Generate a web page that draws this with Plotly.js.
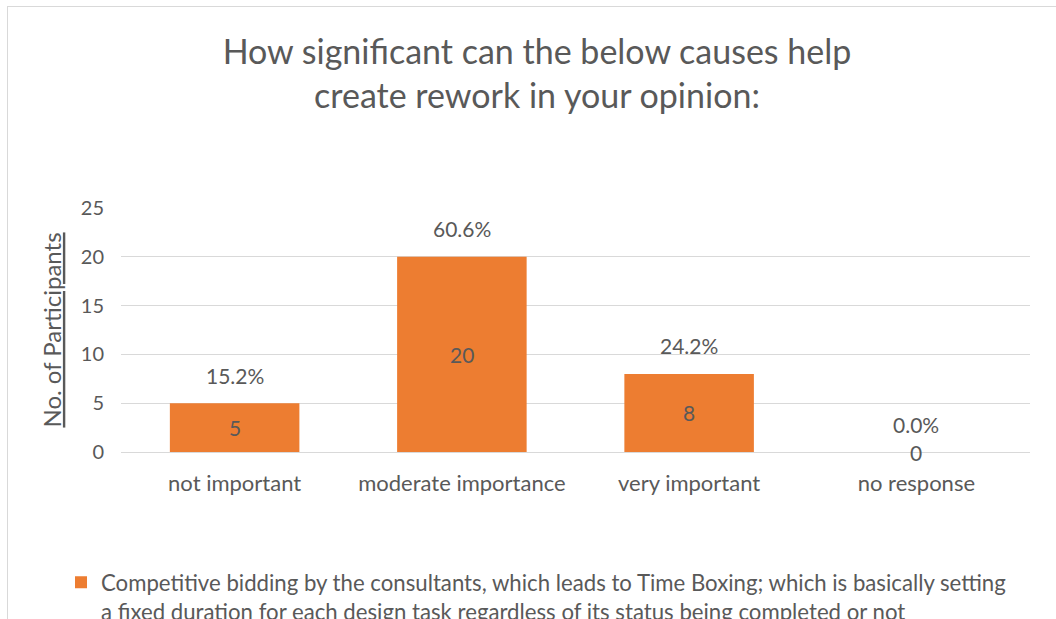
<!DOCTYPE html>
<html>
<head>
<meta charset="utf-8">
<script src="https://cdn.plot.ly/plotly-3.0.1.min.js"></script>
<style>
html,body{margin:0;padding:0;overflow:hidden;background:#fff;width:1056px;height:619px;}
#chart{position:absolute;left:0;top:0;width:1056px;height:640px;}
#frame{position:absolute;left:7px;top:6px;width:2000px;height:2000px;border-left:1px solid #d9d9d9;border-top:1px solid #d9d9d9;pointer-events:none;z-index:10;}
</style>
</head>
<body>
<div id="chart"></div>
<div id="frame"></div>
<script>
const categories = ["not important", "moderate importance", "very important", "no response"];
const counts = [5, 20, 8, 0];
const percentLabels = ["15.2%", "60.6%", "24.2%", "0.0%"];
const seriesName = "Competitive bidding by the consultants, which leads to Time Boxing; which is basically setting<br>a fixed duration for each design task regardless of its status being completed or not";
const yTicks = [0, 5, 10, 15, 20, 25];

const FONT = "Lato, 'Open Sans', sans-serif";
const GREY = "#595959";

const annotations = [];
categories.forEach((c, i) => {
  annotations.push({x: c, y: counts[i], xref: 'x', yref: 'y', text: percentLabels[i], showarrow: false,
    yanchor: 'middle', yshift: 28, font: {family: FONT, size: 21, color: GREY}});
  annotations.push({x: c, y: counts[i] / 2, xref: 'x', yref: 'y', text: String(counts[i]), showarrow: false,
    yanchor: 'middle', font: {family: FONT, size: 21, color: GREY}});
});

const trace = {
  type: 'bar', x: categories, y: counts, name: seriesName,
  marker: {color: '#ED7D31'}, showlegend: true, hoverinfo: 'x+y'
};

const layout = {
  width: 1056, height: 640,
  margin: {l: 121, r: 26, t: 208, b: 188},
  paper_bgcolor: '#fff', plot_bgcolor: '#fff',
  font: {family: FONT, color: GREY},
  title: {text: "How significant can the below causes help<br>create rework in your opinion:",
    x: 0.5085, xref: 'container', xanchor: 'center', y: 0.90, yref: 'container', yanchor: 'top',
    font: {family: FONT, size: 34, color: GREY}},
  bargap: 0.43,
  xaxis: {type: 'category', showgrid: false, zeroline: false, showline: false, ticks: '',
    tickfont: {family: FONT, size: 22, color: GREY}, ticklabelstandoff: 16, fixedrange: true},
  yaxis: {range: [0, 25], tickvals: yTicks, showgrid: true, gridcolor: '#d9d9d9', gridwidth: 1,
    zeroline: true, zerolinecolor: '#d9d9d9', zerolinewidth: 1, showline: false, ticks: '',
    tickfont: {family: FONT, size: 20, color: GREY}, ticklabelstandoff: 16,
    title: {text: "<u>No. of Participants</u>", font: {family: FONT, size: 24, color: GREY}, standoff: 12},
    fixedrange: true},
  showlegend: true,
  legend: {orientation: 'h', x: -0.066, xanchor: 'left', y: 0.123, yref: 'container', yanchor: 'top',
    valign: 'top', font: {family: FONT, size: 22.2, color: GREY}, bgcolor: 'rgba(0,0,0,0)'},
  annotations: annotations
};

Plotly.newPlot('chart', [trace], layout, {displayModeBar: false, staticPlot: true});
</script>
</body>
</html>
